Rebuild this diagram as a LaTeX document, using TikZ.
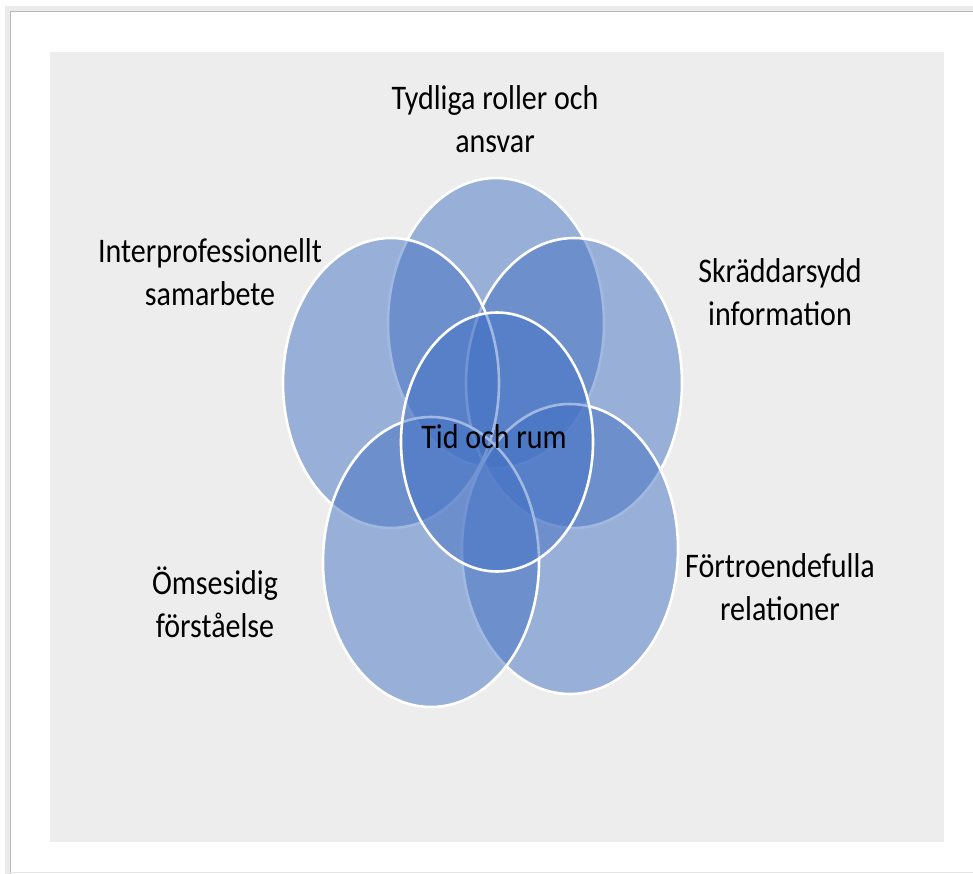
\documentclass[tikz,border=0pt]{standalone}
\usepackage{fontspec}
\setmainfont{Carlito}[FakeStretch=0.87]
\usetikzlibrary{shapes.geometric}
\definecolor{vblue}{HTML}{4472C4}
\definecolor{bggray}{HTML}{EDEDED}
\begin{document}
\begin{tikzpicture}[x=1pt,y=-1pt,
  venn/.style={ellipse, fill=vblue, fill opacity=0.5, draw=white, draw opacity=1, line width=2.6pt, inner sep=0pt},
  big/.style={venn, minimum width=216pt, minimum height=290pt},
  lbl/.style={font=\fontsize{34.5}{43}\selectfont, align=center, text=black, inner sep=0pt}]
\useasboundingbox (0,0) rectangle (973,874);
\fill[white] (0,0) rectangle (973,874);
% frame with shadow
\draw[black!8, line width=5pt] (7.5,874) -- (7.5,8.5) -- (973,8.5);
\draw[black!28, line width=1.6pt] (10.5,874) -- (10.5,11.5) -- (973,11.5);
\draw[black!10, line width=1.2pt] (10,872.5) -- (973,872.5);
% panel
\fill[bggray] (50,52) rectangle (944,842);
% ellipses
\node[big] (top) at (496,323) {};
\node[big] (right) at (574,383) {};
\node[big] (bright) at (570,549) {};
\node[big] (left) at (391,383) {};
\node[big] (bleft) at (431,562) {};
\node[venn, minimum width=192pt, minimum height=259pt] (center) at (497,442) {};
% labels
\node[lbl] (ltop) at (495,119) {Tydliga roller och\\ansvar};
\node[lbl] (lleft) at (210,272) {Interprofessionellt\\samarbete};
\node[lbl] (lright) at (780,292) {Skräddarsydd\\information};
\node[lbl] (lbleft) at (215,602) {Ömsesidig\\förståelse};
\node[lbl] (lbright) at (780,587) {Förtroendefulla\\relationer};
\node[lbl] (lcenter) at (494,437) {Tid och rum};
\end{tikzpicture}
\end{document}
